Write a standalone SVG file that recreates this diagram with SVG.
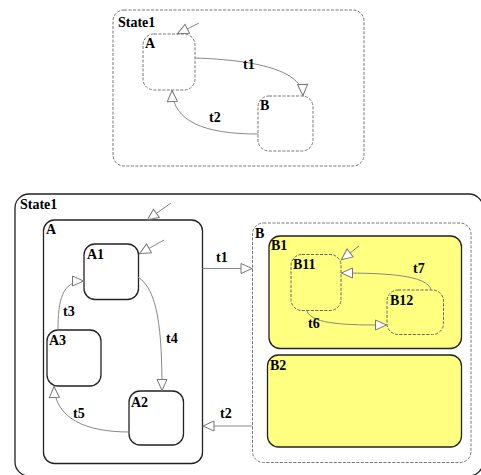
<svg xmlns="http://www.w3.org/2000/svg" width="481" height="475" viewBox="0 0 481 475">
<style>
.dash{fill:#fff;stroke:#777;stroke-width:1;stroke-dasharray:3,1.5}
.dashy{fill:#ffff80;stroke:#666;stroke-width:1;stroke-dasharray:3,1.5}
.solid{fill:#fff;stroke:#222;stroke-width:1.3}
.yel{fill:#ffff80;stroke:#222;stroke-width:1.3}
.lbl{font-family:"Liberation Serif","Times New Roman",serif;font-weight:bold;font-size:14px;fill:#000}
.c{fill:none;stroke:#888;stroke-width:1;marker-end:url(#ah)}
.i{fill:none;stroke:#888;stroke-width:1;marker-end:url(#ah)}
</style>
<defs>
<marker id="ah" markerUnits="userSpaceOnUse" markerWidth="14" markerHeight="12" refX="11.5" refY="5" orient="auto" viewBox="-1 -1 14 12">
<path d="M0,0 L11,5 L0,10 Z" fill="#fff" stroke="#777" stroke-width="1"/>
</marker>
</defs>
<rect width="481" height="475" fill="#fff"/>

<g id="top-State1">
<rect class="dash" x="113" y="10" width="251" height="156" rx="11"/>
<text class="lbl" x="118" y="27">State1</text>
</g>
<g id="top-A">
<rect class="dash" x="143" y="34" width="52" height="56" rx="11"/>
<text class="lbl" x="145" y="48">A</text>
</g>
<g id="top-B">
<rect class="dash" x="258" y="96" width="55" height="55" rx="11"/>
<text class="lbl" x="260" y="110">B</text>
</g>

<g id="bottom-State1">
<rect class="solid" x="15" y="194" width="468" height="282" rx="14"/>
<text class="lbl" x="20" y="209">State1</text>
</g>
<g id="A">
<rect class="solid" x="43.5" y="220" width="159" height="243.5" rx="11"/>
<text class="lbl" x="46" y="234">A</text>
</g>
<g id="A1">
<rect class="solid" x="84" y="244" width="54.5" height="55.5" rx="11"/>
<text class="lbl" x="87" y="259">A1</text>
</g>
<g id="A3">
<rect class="solid" x="47" y="330" width="54" height="56" rx="11"/>
<text class="lbl" x="49" y="345">A3</text>
</g>
<g id="A2">
<rect class="solid" x="129" y="391" width="54.5" height="54" rx="11"/>
<text class="lbl" x="131" y="407">A2</text>
</g>
<g id="B">
<rect class="dash" x="252.5" y="223" width="218.5" height="239.5" rx="11"/>
<text class="lbl" x="255" y="238">B</text>
</g>
<g id="B1">
<rect class="yel" x="269" y="236" width="192.5" height="112.5" rx="11"/>
<text class="lbl" x="271" y="250">B1</text>
</g>
<g id="B2">
<rect class="yel" x="267.5" y="355" width="194" height="92" rx="11"/>
<text class="lbl" x="270" y="370">B2</text>
</g>
<g id="B11">
<rect class="dashy" x="291" y="254.5" width="50" height="56" rx="11"/>
<text class="lbl" x="293" y="269">B11</text>
</g>
<g id="B12">
<rect class="dashy" x="387" y="290" width="56.5" height="44.5" rx="11"/>
<text class="lbl" x="390" y="305">B12</text>
</g>

<g id="connectors">
<path class="i" d="M199,23 L177,34"/>
<path class="c" d="M195,58 C255,60 302,70 303,96"/>
<path class="c" d="M258,134 C205,134 173,122 172,90"/>
<path class="i" d="M171,203 L147,220"/>
<path class="i" d="M164,240 L139,254"/>
<path class="c" d="M58,330 C58,300 62,281 84,281"/>
<path class="c" d="M138,277 C158,290 162,330 162,391"/>
<path class="c" d="M129,432 C85,432 55,418 54,386"/>
<path class="c" d="M202.5,268.5 L252.5,268.5"/>
<path class="c" d="M252.5,426 L202.5,426"/>
<path class="i" d="M359,246 L341,260"/>
<path class="c" d="M307,311 C312,325 350,325 387,325"/>
<path class="c" d="M431,290 C428,275 385,273 341,273"/>
</g>
<g id="labels">
<text class="lbl" x="243" y="69">t1</text>
<text class="lbl" x="209" y="122">t2</text>
<text class="lbl" x="63" y="316">t3</text>
<text class="lbl" x="166" y="343">t4</text>
<text class="lbl" x="73" y="418">t5</text>
<text class="lbl" x="216" y="262">t1</text>
<text class="lbl" x="220" y="418">t2</text>
<text class="lbl" x="308" y="328">t6</text>
<text class="lbl" x="413" y="273">t7</text>
</g>
</svg>
